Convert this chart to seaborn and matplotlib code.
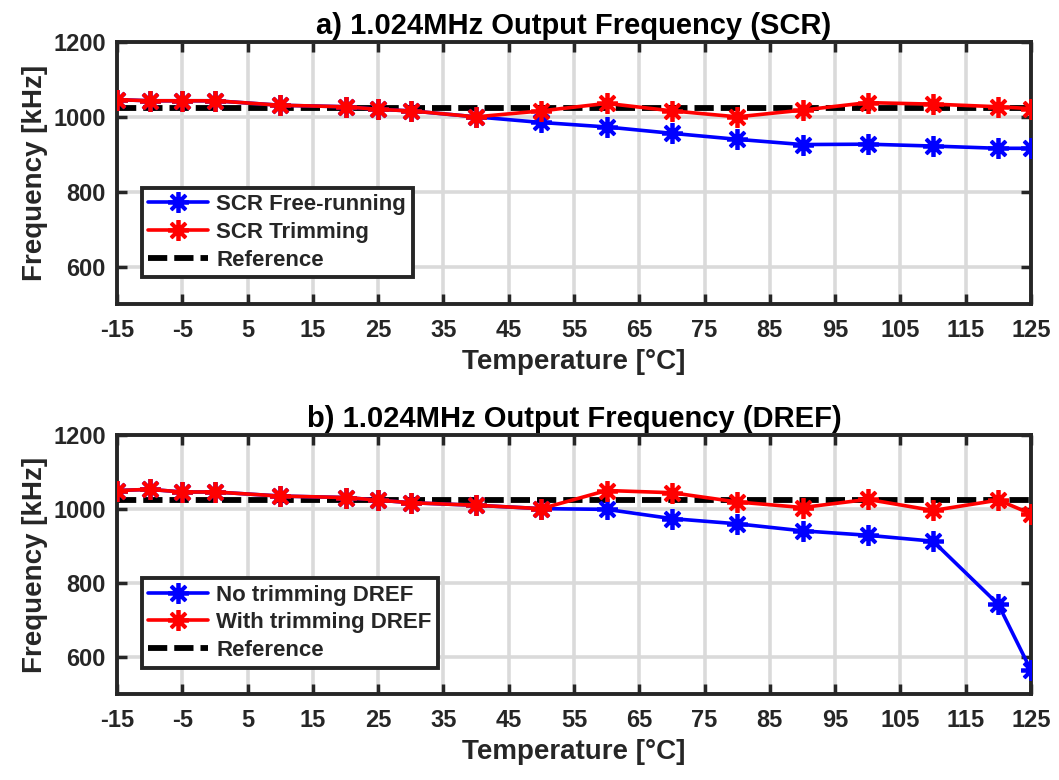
import numpy as np
import pandas as pd
import matplotlib
matplotlib.use("Agg")
import matplotlib.pyplot as plt
import seaborn as sns

temps = [-15, -10, -5, 0, 10, 20, 25, 30, 40, 50, 60, 70, 80, 90, 100, 110, 120, 125]

scr_free = [1046, 1043, 1043, 1043, 1031, 1027, 1020, 1016, 1000, 985, 973, 956, 940, 926, 927, 922, 916, 916]
scr_trim = [1046, 1043, 1043, 1043, 1031, 1027, 1020, 1016, 1000, 1016, 1036, 1016, 1000, 1018, 1038, 1034, 1027, 1022]

dref_none = [1050, 1053, 1046, 1046, 1035, 1031, 1024, 1017, 1010, 1001, 999, 974, 960, 941, 929, 913, 742, 564]
dref_trim = [1050, 1053, 1046, 1046, 1035, 1031, 1024, 1017, 1010, 1001, 1050, 1044, 1019, 1004, 1026, 996, 1024, 987]

reference_khz = 1024

titles = ["a) 1.024MHz Output Frequency (SCR)", "b) 1.024MHz Output Frequency (DREF)"]
labels_a = ["SCR Free-running", "SCR Trimming", "Reference"]
labels_b = ["No trimming DREF", "With trimming DREF", "Reference"]
xticks = list(range(-15, 126, 10))
yticks = [600, 800, 1000, 1200]

sns.set_theme(style="white")
plt.rcParams['font.family'] = ['Liberation Sans', 'DejaVu Sans']
plt.rcParams['font.weight'] = 'bold'
plt.rcParams['axes.unicode_minus'] = False

fig = plt.figure(figsize=(10.59, 7.8), dpi=100)
W, H = 1059, 780
def axrect(l, t, r, b):
    return [l / W, 1 - b / H, (r - l) / W, (b - t) / H]

ax1 = fig.add_axes(axrect(117, 42, 1031, 304))
ax2 = fig.add_axes(axrect(117, 435, 1031, 694))

asterisk = (8, 2, 0)
spine_c = "#262626"

def draw(ax, s1, s2, labs, title):
    df = pd.DataFrame({"T": temps, "a": s1, "b": s2})
    sns.lineplot(data=df, x="T", y="a", ax=ax, color="#0000ff", lw=2.6, marker=asterisk,
                 markersize=15, markeredgewidth=2.7, markeredgecolor="#0000ff", label=labs[0], zorder=3)
    sns.lineplot(data=df, x="T", y="b", ax=ax, color="#ff0000", lw=2.6, marker=asterisk,
                 markersize=15, markeredgewidth=2.7, markeredgecolor="#ff0000", label=labs[1], zorder=4)
    ax.axhline(reference_khz, color="black", lw=4.2, ls=(0, (3.3, 1.2)), label=labs[2], zorder=2)
    ax.set_xlim(-15, 125)
    ax.set_ylim(500, 1200)
    ax.set_xticks(xticks)
    ax.set_yticks(yticks)
    ax.grid(True, color="#dadada", lw=2.6)
    ax.set_axisbelow(True)
    for s in ax.spines.values():
        s.set_color(spine_c)
        s.set_linewidth(2.8)
        s.set_visible(True)
    ax.tick_params(direction="in", length=7, width=2.5, color=spine_c, labelsize=17,
                   labelcolor=spine_c, top=True, right=True, bottom=True, left=True)
    ax.tick_params(axis="x", pad=11)
    ax.tick_params(axis="y", pad=8)
    for t in ax.get_xticklabels() + ax.get_yticklabels():
        t.set_fontweight("bold")
    ax.set_xlabel("Temperature [\u00b0C]", fontsize=20, fontweight="bold", color=spine_c, labelpad=5)
    ax.set_ylabel("Frequency [kHz]", fontsize=20, fontweight="bold", color=spine_c, labelpad=4)
    ax.set_title(title, fontsize=21, fontweight="bold", color="black", pad=6)
    leg = ax.legend(loc="lower left", bbox_to_anchor=(0.027, 0.102), borderaxespad=0,
                    fancybox=False, framealpha=1,
                    edgecolor=spine_c, prop={"weight": "bold", "size": 16}, handlelength=2.7,
                    borderpad=0.3, labelspacing=0.3, handletextpad=0.35)
    leg.get_frame().set_linewidth(2.8)

draw(ax1, scr_free, scr_trim, labels_a, titles[0])
draw(ax2, dref_none, dref_trim, labels_b, titles[1])

fig.savefig("out.png", dpi=100)
